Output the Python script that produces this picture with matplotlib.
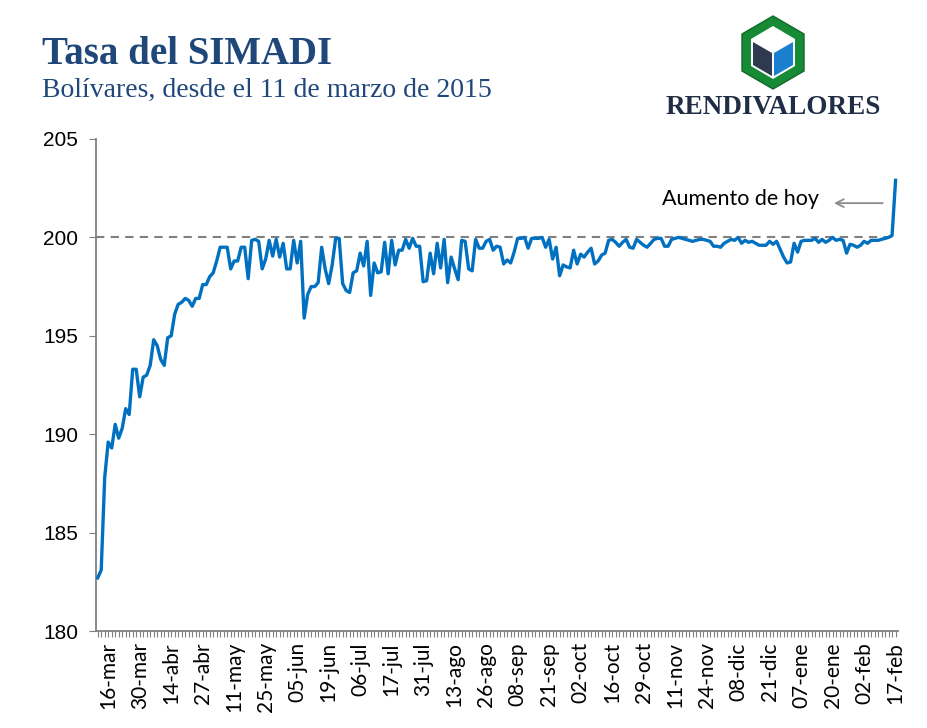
import matplotlib

matplotlib.use("Agg")
import matplotlib.pyplot as plt
from matplotlib.patches import Polygon

# Tasa SIMADI, una observación por día hábil desde el 11-mar-2015
values = [
    182.7, 183.1, 187.8, 189.6, 189.3, 190.5, 189.8, 190.3, 191.3, 191.0,
    193.3, 193.3, 191.9, 192.9, 193.0, 193.5, 194.8, 194.5, 193.8, 193.5,
    194.9, 195.0, 196.1, 196.6, 196.7, 196.9, 196.8, 196.5, 196.9, 196.9,
    197.6, 197.6, 198.0, 198.2, 198.8, 199.5, 199.5, 199.5, 198.4, 198.8,
    198.8, 199.5, 199.5, 197.9, 199.85, 199.9, 199.8, 198.4, 198.9, 199.85,
    199.05, 199.9, 199.0, 199.7, 198.4, 198.4, 199.85, 198.7, 199.8, 195.9,
    197.1, 197.5, 197.5, 197.7, 199.5, 198.4, 197.65, 198.6, 199.95, 199.95,
    197.65, 197.3, 197.2, 198.2, 198.3, 199.2, 198.55, 199.8, 197.05, 198.7,
    198.2, 198.25, 199.75, 198.15, 199.85, 198.6, 199.35, 199.35, 199.9, 199.45,
    199.95, 199.55, 199.55, 197.75, 197.8, 199.2, 198.15, 199.7, 198.45, 199.9,
    197.7, 199.0, 198.4, 197.85, 199.85, 199.8, 198.4, 198.3, 199.9, 199.45,
    199.45, 199.8, 199.9, 199.35, 199.55, 199.5, 198.65, 198.85, 198.7, 199.25,
    199.95, 199.95, 200.0, 199.45, 199.95, 199.95, 199.95, 200.0, 199.5, 199.9,
    198.9, 199.5, 198.05, 198.6, 198.5, 198.45, 199.35, 198.65, 199.15, 199.0,
    199.25, 199.45, 198.65, 198.8, 199.1, 199.2, 199.85, 199.9, 199.75, 199.55,
    199.75, 199.9, 199.5, 199.45, 199.9, 199.75, 199.6, 199.5, 199.7, 199.9,
    199.95, 199.95, 199.55, 199.55, 199.9, 199.95, 200.0, 199.95, 199.9, 199.85,
    199.8, 199.85, 199.9, 199.9, 199.85, 199.8, 199.55, 199.55, 199.5, 199.7,
    199.8, 199.9, 199.85, 200.0, 199.7, 199.85, 199.75, 199.8, 199.7, 199.6,
    199.6, 199.6, 199.8, 199.65, 199.8, 199.4, 199.0, 198.7, 198.75, 199.7,
    199.25, 199.8, 199.85, 199.85, 199.85, 199.95, 199.75, 199.9, 199.75, 199.85,
    200.0, 199.85, 199.9, 199.85, 199.2, 199.65, 199.6, 199.5, 199.6, 199.8,
    199.7, 199.85, 199.85, 199.85, 199.9, 199.95, 200.0, 200.1, 202.9,
]

tick_labels = [
    "16-mar", "30-mar", "14-abr", "27-abr", "11-may", "25-may", "05-jun",
    "19-jun", "06-jul", "17-jul", "31-jul", "13-ago", "26-ago", "08-sep",
    "21-sep", "02-oct", "16-oct", "29-oct", "11-nov", "24-nov", "08-dic",
    "21-dic", "07-ene", "20-ene", "02-feb", "17-feb",
]
tick_first, tick_step = 3, 9
reference_level = 200

BLUE = "#0070C0"
NAVY = "#1F477A"
GRAY = "#808080"

fig = plt.figure(figsize=(9.28, 7.28), dpi=100)
ax = fig.add_axes([0.1034, 0.1332, 0.8643, 0.6759])

xs = list(range(len(values)))
ax.plot(xs, values, color=BLUE, lw=2.4, solid_joinstyle="round", zorder=3)
ax.axhline(reference_level, color=GRAY, lw=1.5, ls=(0, (4, 3)), zorder=2)

ax.set_xlim(-0.5, len(values) - 0.3)
ax.set_ylim(180, 205)
ax.set_yticks(range(180, 206, 5))
ax.set_xticks([tick_first + i * tick_step for i in range(len(tick_labels))])
ax.set_xticklabels(tick_labels, rotation=90, fontsize=15, family="Lato")
ax.set_xticks(xs, minor=True)
for lab in ax.get_yticklabels():
    lab.set_family("Liberation Sans")
    lab.set_fontsize(15)

for s in ("top", "right"):
    ax.spines[s].set_visible(False)
for s in ("left", "bottom"):
    ax.spines[s].set_color(GRAY)
    ax.spines[s].set_linewidth(1.3)
ax.tick_params(axis="y", length=5, color=GRAY, pad=8)
ax.tick_params(axis="x", which="both", length=4, color=GRAY, width=0.8, pad=4)

ax.text(161.2, 201.95, "Aumento de hoy", fontsize=15.5, family="Lato",
        va="center", ha="left")
ax.annotate("", xy=(209.6, 201.74), xytext=(225.1, 201.74),
            arrowprops=dict(arrowstyle="->", color="#8C8C8C", lw=1.3,
                            mutation_scale=14))

# titulos
fig.text(42 / 928, 1 - 64 / 728, "Tasa del SIMADI", family="Liberation Serif",
         weight="bold", fontsize=28, color=NAVY)
fig.text(42 / 928, 1 - 97 / 728, "Bolívares, desde el 11 de marzo de 2015",
         family="Liberation Serif", fontsize=20, color=NAVY)

# logo
def px(pts):
    return [(x / 928, 1 - y / 728) for x, y in pts]

outer = [(773, 16), (804, 34), (804, 71), (773, 89), (742, 71), (742, 34)]
inner = [(773, 26), (795, 39), (795, 66), (773, 79), (751, 66), (751, 39)]
fig.patches.append(Polygon(px(outer), closed=True, transform=fig.transFigure,
                           facecolor="#178A35", edgecolor="#0F6B2A", lw=1))
fig.patches.append(Polygon(px(inner), closed=True, transform=fig.transFigure,
                           facecolor="white", edgecolor="none"))
left_face = [(753, 42), (772, 53), (772, 76), (753, 65)]
right_face = [(774, 53), (793, 42), (793, 65), (774, 76)]
fig.patches.append(Polygon(px(left_face), closed=True, transform=fig.transFigure,
                           facecolor="#2D3A4F", edgecolor="none"))
fig.patches.append(Polygon(px(right_face), closed=True, transform=fig.transFigure,
                           facecolor="#1A7FCF", edgecolor="none"))
fig.text(773 / 928, 1 - 114 / 728, "RENDIVALORES", family="Liberation Serif",
         weight="bold", fontsize=19.5, color="#1F2D45", ha="center")

fig.savefig("out.png", dpi=100)
